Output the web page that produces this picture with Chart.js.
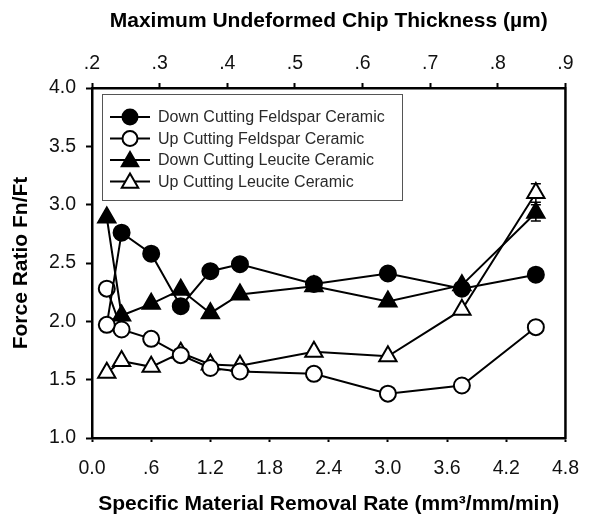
<!DOCTYPE html>
<html>
<head>
<meta charset="utf-8">
<script src="https://cdn.jsdelivr.net/npm/chart.js@4.4.1/dist/chart.umd.min.js"></script>
<style>
  html, body { margin: 0; padding: 0; background: #fff; }
  #wrap { width: 594px; height: 515px; position: relative; }
</style>
</head>
<body>
<div id="wrap"><canvas id="forceRatio"></canvas></div>
<script>
// data
const removalRate = [0.15, 0.3, 0.6, 0.9, 1.2, 1.5, 2.25, 3.0, 3.75, 4.5];
const downFeldspar = [1.97, 2.76, 2.58, 2.13, 2.43, 2.49, 2.32, 2.41, 2.28, 2.40];
const upFeldspar = [2.28, 1.93, 1.85, 1.71, 1.60, 1.57, 1.55, 1.38, 1.45, 1.95];
const downLeucite = [2.89, 2.05, 2.15, 2.27, 2.07, 2.23, 2.30, 2.17, 2.31, 2.93];
const upLeucite = [1.56, 1.66, 1.61, 1.73, 1.63, 1.62, 1.74, 1.70, 2.10, 3.10];
const downLeuciteErr = [0, 0, 0, 0, 0, 0, 0, 0, 0, 0.07];
const upLeuciteErr = [0, 0, 0, 0, 0, 0, 0, 0, 0, 0.08];

const xTickLabels = ['0.0', '.6', '1.2', '1.8', '2.4', '3.0', '3.6', '4.2', '4.8'];
const topTickLabels = ['.2', '.3', '.4', '.5', '.6', '.7', '.8', '.9'];
const yTickLabels = ['1.0', '1.5', '2.0', '2.5', '3.0', '3.5', '4.0'];

const FONT = "'Liberation Sans', Arial, sans-serif";

function pts(ys) {
    return removalRate.map((x, i) => ({ x: x, y: ys[i] }));
}

function series(label, ys, style, fill, legendFill, errs) {
    return {
        label: label,
        data: pts(ys),
        errs: errs,
        legendFill: legendFill,
        borderColor: '#000',
        borderWidth: 2,
        pointStyle: style,
        pointRadius: style === 'triangle' ? 10 : 8,
        pointHoverRadius: style === 'triangle' ? 10 : 8,
        pointBorderWidth: 2,
        pointBackgroundColor: fill,
        pointBorderColor: '#000',
        showLine: true,
        tension: 0
    };
}

function marker(ctx, style, x, y, r, fill) {
    ctx.beginPath();
    if (style === 'circle') {
        ctx.arc(x, y, r, 0, Math.PI * 2);
    } else {
        for (let k = 0; k < 3; k++) {
            const a = k * 2 * Math.PI / 3;
            const px = x + Math.sin(a) * r, py = y - Math.cos(a) * r;
            if (k === 0) ctx.moveTo(px, py); else ctx.lineTo(px, py);
        }
        ctx.closePath();
    }
    ctx.fillStyle = fill;
    ctx.fill();
    ctx.lineWidth = 2;
    ctx.strokeStyle = '#000';
    ctx.stroke();
}

const extras = {
    id: 'extras',
    beforeDatasetsDraw(chart) {
        const ctx = chart.ctx;
        const ys = chart.scales.y;
        ctx.save();
        ctx.strokeStyle = '#000';
        ctx.lineWidth = 1.5;
        chart.data.datasets.forEach((ds, i) => {
            if (!ds.errs) return;
            const meta = chart.getDatasetMeta(i);
            ds.errs.forEach((e, j) => {
                if (!e) return;
                const p = meta.data[j];
                const top = ys.getPixelForValue(ds.data[j].y + e);
                const bot = ys.getPixelForValue(ds.data[j].y - e);
                ctx.beginPath();
                ctx.moveTo(p.x, top); ctx.lineTo(p.x, bot);
                ctx.moveTo(p.x - 5, top); ctx.lineTo(p.x + 5, top);
                ctx.moveTo(p.x - 5, bot); ctx.lineTo(p.x + 5, bot);
                ctx.stroke();
            });
        });
        ctx.restore();
    },
    afterDraw(chart) {
        const ctx = chart.ctx;
        const a = chart.chartArea;
        ctx.save();
        // right frame line
        ctx.strokeStyle = '#000';
        ctx.lineWidth = 2.5;
        ctx.beginPath();
        ctx.moveTo(a.right, a.top - 1);
        ctx.lineTo(a.right, a.bottom + 1);
        ctx.stroke();

        // legend box
        const bx = a.left + 10, by = a.top + 6, bw = 300, bh = 106;
        ctx.fillStyle = '#fff';
        ctx.fillRect(bx, by, bw, bh);
        ctx.lineWidth = 1;
        ctx.strokeStyle = '#555';
        ctx.strokeRect(bx + 0.5, by + 0.5, bw, bh);

        ctx.font = '16px ' + FONT;
        ctx.textBaseline = 'middle';
        ctx.textAlign = 'left';
        chart.data.datasets.forEach((ds, i) => {
            const ry = by + 23 + i * 21.5;
            ctx.strokeStyle = '#000';
            ctx.lineWidth = 2;
            ctx.beginPath();
            ctx.moveTo(bx + 8, ry); ctx.lineTo(bx + 48, ry);
            ctx.stroke();
            const r = ds.pointStyle === 'triangle' ? 9.5 : 7.5;
            marker(ctx, ds.pointStyle, bx + 28, ry + (ds.pointStyle === 'triangle' ? 1.5 : 0), r, ds.legendFill);
            ctx.fillStyle = '#2a2a2a';
            ctx.fillText(ds.label, bx + 56, ry + 1);
        });
        ctx.restore();
    }
};

const tickFont = { family: FONT, size: 19.5 };
const titleFont = { family: FONT, size: 21, weight: 'bold', lineHeight: 1 };
const gridBase = { drawOnChartArea: false, drawTicks: true, tickWidth: 2, tickColor: '#000', color: '#000' };
const borderBase = { display: true, color: '#000', width: 2.5 };

// first down-feldspar marker appears hollow in the figure
const dfFill = removalRate.map((x, i) => i === 0 ? '#fff' : '#000');

new Chart(document.getElementById('forceRatio'), {
    type: 'line',
    data: {
        datasets: [
            series('Down Cutting Feldspar Ceramic', downFeldspar, 'circle', dfFill, '#000'),
            series('Up Cutting Feldspar Ceramic', upFeldspar, 'circle', '#fff', '#fff'),
            series('Down Cutting Leucite Ceramic', downLeucite, 'triangle', '#000', '#000', downLeuciteErr),
            series('Up Cutting Leucite Ceramic', upLeucite, 'triangle', '#fff', '#fff', upLeuciteErr)
        ]
    },
    options: {
        responsive: true,
        maintainAspectRatio: false,
        animation: false,
        layout: { padding: { left: 0, right: 19, top: 0, bottom: 0 } },
        plugins: { legend: { display: false }, tooltip: { enabled: false } },
        scales: {
            x: {
                type: 'linear',
                position: 'bottom',
                min: 0, max: 4.8,
                ticks: {
                    stepSize: 0.6, padding: 15, color: '#111', font: tickFont,
                    maxRotation: 0, autoSkip: false,
                    callback: (v, i) => xTickLabels[i]
                },
                grid: Object.assign({}, gridBase, { tickLength: 4 }),
                border: borderBase,
                title: {
                    display: true, text: 'Specific Material Removal Rate (mm³/mm/min)',
                    color: '#000', font: titleFont, padding: { top: 0, bottom: 0 }
                },
                afterFit(s) { s.height = 77; }
            },
            x2: {
                type: 'linear',
                position: 'top',
                min: 0.2, max: 0.9,
                ticks: {
                    stepSize: 0.1, padding: 8, color: '#111', font: tickFont,
                    maxRotation: 0, autoSkip: false,
                    callback: (v, i) => topTickLabels[i]
                },
                grid: Object.assign({}, gridBase, { tickLength: 5 }),
                border: borderBase,
                title: {
                    display: true, text: 'Maximum Undeformed Chip Thickness (µm)',
                    color: '#000', font: titleFont, padding: { top: 11, bottom: 0 }
                },
                afterFit(s) { s.height = 88; }
            },
            y: {
                min: 1, max: 4,
                ticks: {
                    stepSize: 0.5, padding: 10, color: '#111', font: tickFont,
                    callback: (v, i) => yTickLabels[i]
                },
                grid: Object.assign({}, gridBase, { tickLength: 6 }),
                border: borderBase,
                title: {
                    display: true, text: 'Force Ratio Fn/Ft',
                    color: '#000', font: titleFont, padding: { top: 11, bottom: 0 }
                },
                afterFit(s) { s.width = 92; }
            }
        }
    },
    plugins: [extras]
});
</script>
</body>
</html>
